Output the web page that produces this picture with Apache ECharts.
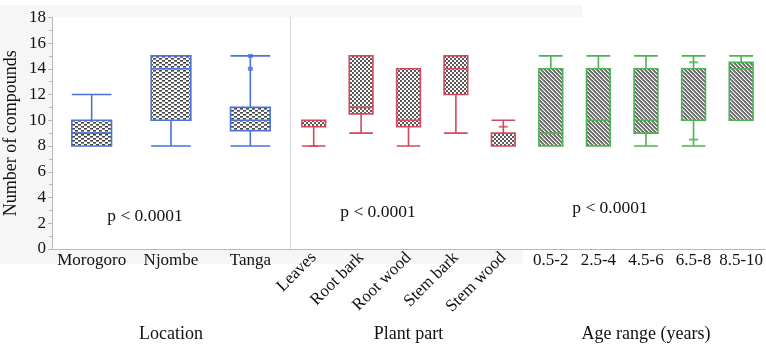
<!DOCTYPE html>
<html><head><meta charset="utf-8">
<script src="https://cdn.jsdelivr.net/npm/echarts@6/dist/echarts.min.js"></script>
<style>html,body{margin:0;padding:0;background:#fff}#c{width:766px;height:348px}</style>
</head><body><div id="c"></div>
<script>
// ---- data ----
const locCats = ['Morogoro', 'Njombe', 'Tanga'];
const locBoxes = [[8, 8, 9, 10, 12], [8, 10, 14, 15, 15], [8, 9.2, 10, 11, 15]];
const locMarks = [['Tanga', 14], ['Tanga', 15]];

const partCats = ['Leaves', 'Root bark', 'Root wood', 'Stem bark', 'Stem wood'];
const partBoxes = [[8, 9.5, 10, 10, 10], [9, 10.5, 11, 15, 15], [8, 9.5, 10, 14, 14], [9, 12, 14, 15, 15], [8, 8, 8, 9, 10]];
const partMarks = [['Leaves', 8], ['Stem wood', 9.5]];

const ageCats = ['0.5-2', '2.5-4', '4.5-6', '6.5-8', '8.5-10'];
const ageBoxes = [[8, 8, 9, 14, 15], [8, 8, 10, 14, 15], [8, 9, 10, 14, 15], [8, 10, 10, 14, 15], [10, 10, 14, 14.5, 15]];
const ageMarks = [['6.5-8', 14.5], ['6.5-8', 8.5]];

const yTicks = [0, 18, 2];
const pText = 'p < 0.0001';

// ---- patterns ----
function makePattern(w, h, draw) {
  const c = document.createElement('canvas'); c.width = w; c.height = h;
  const g = c.getContext('2d'); g.fillStyle = '#fff'; g.fillRect(0, 0, w, h);
  g.fillStyle = '#5a5a5a'; draw(g); return { image: c, repeat: 'repeat' };
}
const patLoc = makePattern(6, 4, g => { g.fillStyle = '#444'; g.fillRect(0, 0, 3, 1); g.fillStyle = '#888'; g.fillRect(0, 1, 3, 1); g.fillStyle = '#444'; g.fillRect(3, 2, 3, 1); g.fillStyle = '#888'; g.fillRect(3, 3, 3, 1); });
const patPart = makePattern(4, 4, g => { g.fillRect(0, 0, 2, 2); g.fillRect(2, 2, 2, 2); });
const patAge = makePattern(4, 4, g => { g.fillStyle = '#6e6e6e'; for (let i = 0; i < 4; i++) { g.fillRect(i, (i + 0) % 4, 1, 1); g.fillRect(i, (i + 1) % 4, 1, 1); } g.fillStyle = '#a8a8a8'; for (let i = 0; i < 4; i++) { g.fillRect(i, (i + 2) % 4, 1, 1); } });

const FONT = '"Liberation Serif", "Times New Roman", serif';
const blue = '#4a72d8', red = '#d44a5c', green = '#4db352';
const axisGray = '#b8b8b8';

function xAx(idx, cats, name, rotate) {
  return {
    type: 'category', gridIndex: idx, data: cats,
    axisLine: { show: true, lineStyle: { color: axisGray, width: 1 } },
    axisTick: { show: false },
    axisLabel: { color: '#111', fontFamily: FONT, fontSize: 17, margin: rotate ? 6 : 3, rotate: rotate || 0, interval: 0 },
    name: name, nameLocation: 'middle', nameGap: 76,
    nameTextStyle: { color: '#111', fontFamily: FONT, fontSize: 18 }
  };
}
function yAx(idx, showLine, showLabels) {
  return {
    type: 'value', gridIndex: idx, min: yTicks[0], max: yTicks[1], interval: yTicks[2],
    axisLine: { show: showLine, lineStyle: { color: idx === 0 ? axisGray : '#d8d8d8', width: 1 } },
    axisTick: { show: showLabels, length: 4, lineStyle: { color: axisGray } },
    minorTick: { show: showLabels, splitNumber: 2, length: 3, lineStyle: { color: axisGray } },
    splitLine: { show: false },
    axisLabel: { show: showLabels, color: '#111', fontFamily: FONT, fontSize: 17, margin: 6 },
    name: showLabels ? 'Number of compounds' : '', nameLocation: 'middle', nameGap: 32,
    nameTextStyle: { color: '#111', fontFamily: FONT, fontSize: 18 }
  };
}
function box(idx, data, color, pat) {
  return {
    type: 'boxplot', xAxisIndex: idx, yAxisIndex: idx, data: data,
    boxWidth: ['50%', '50%'],
    itemStyle: { color: pat, borderColor: color, borderWidth: 1.6 },
    emphasis: { disabled: true }, animation: false
  };
}
function marks(idx, data, color, sym, size) {
  return {
    type: 'scatter', xAxisIndex: idx, yAxisIndex: idx, data: data,
    symbol: sym, symbolSize: size, itemStyle: { color: color }, z: 5, animation: false
  };
}

const chart = echarts.init(document.getElementById('c'), null, { renderer: 'canvas' });
chart.setOption({
  backgroundColor: '#fff',
  animation: false,
  graphic: [
    { type: 'rect', z: -10, silent: true, shape: { x: 0, y: 5, width: 582, height: 13 }, style: { fill: '#f6f6f6' } },
    { type: 'rect', z: -10, silent: true, shape: { x: 0, y: 5, width: 523, height: 259 }, style: { fill: '#f6f6f6' } },
    { type: 'text', z: 10, style: { text: pText, x: 145, y: 216, align: 'center', verticalAlign: 'middle', font: '17.5px ' + FONT, fill: '#111' } },
    { type: 'text', z: 10, style: { text: pText, x: 378, y: 212, align: 'center', verticalAlign: 'middle', font: '17.5px ' + FONT, fill: '#111' } },
    { type: 'text', z: 10, style: { text: pText, x: 610, y: 208, align: 'center', verticalAlign: 'middle', font: '17.5px ' + FONT, fill: '#111' } }
  ],
  grid: [
    { left: 52, top: 17.3, width: 238, bottom: 97.3, show: true, backgroundColor: '#fff', borderWidth: 0 },
    { left: 290, top: 17.3, width: 237, bottom: 97.3, show: true, backgroundColor: '#fff', borderWidth: 0 },
    { left: 527, top: 17.3, width: 239, bottom: 97.3, show: true, backgroundColor: '#fff', borderWidth: 0 }
  ],
  xAxis: [
    xAx(0, locCats, 'Location', 0),
    xAx(1, partCats, 'Plant part', 45),
    xAx(2, ageCats, 'Age range (years)', 0)
  ],
  yAxis: [yAx(0, true, true), yAx(1, true, false), yAx(2, false, false)],
  series: [
    box(0, locBoxes, blue, patLoc),
    box(1, partBoxes, red, patPart),
    box(2, ageBoxes, green, patAge),
    marks(0, locMarks, blue, 'rect', [5, 4]),
    marks(1, partMarks, red, 'rect', [9, 2]),
    marks(2, ageMarks, green, 'rect', [9, 2])
  ]
});
</script></body></html>
